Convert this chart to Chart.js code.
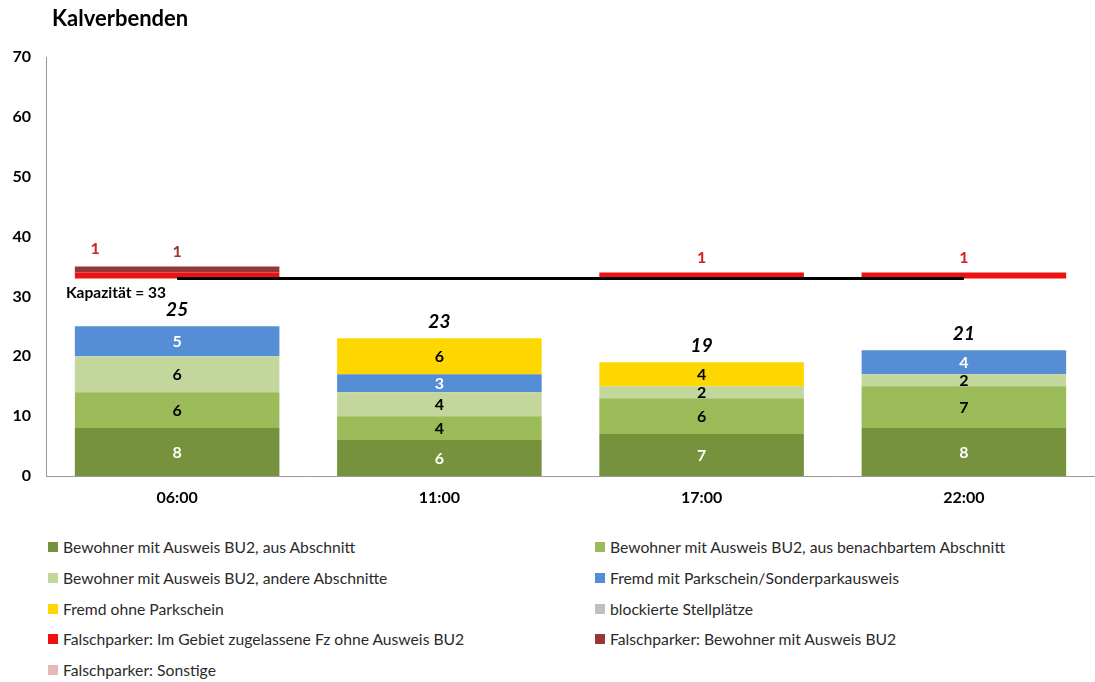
<!DOCTYPE html>
<html>
<head>
<meta charset="utf-8">
<script src="https://cdn.jsdelivr.net/npm/chart.js@4"></script>
<style>
  body { margin: 0; background: #fff; font-family: Lato, 'Open Sans', sans-serif; }
  #wrap { position: relative; width: 1095px; height: 682px; }
  #title { position: absolute; left: 52px; top: 4px; font-size: 22px; font-weight: bold; color: #000; }
  #box { position: absolute; left: 0; top: 0; width: 1095px; height: 512px; }
  #legend { position: absolute; left: 48px; top: 532px; display: grid; grid-template-columns: 547px 480px; row-gap: 0; }
  .item { height: 30.7px; display: flex; align-items: center; font-size: 15.7px; color: #2a2a2a; white-space: nowrap; }
  .item span.sw { display: inline-block; width: 10px; height: 10px; margin-right: 5px; }
</style>
</head>
<body>
<div id="wrap">
  <div id="box"><canvas id="chart"></canvas></div>
  <div id="title">Kalverbenden</div>
  <div id="legend"></div>
</div>
<script>
const categories = ['06:00', '11:00', '17:00', '22:00'];

const bewohnerAbschnitt = [8, 6, 7, 8];
const bewohnerBenachbart = [6, 4, 6, 7];
const bewohnerAndere = [6, 4, 2, 2];
const fremdMitSchein = [5, 3, 0, 4];
const fremdOhneSchein = [0, 6, 4, 0];
const blockiert = [0, 0, 0, 0];
const falschZugelassen = [1, 0, 1, 1];
const falschBewohner = [1, 0, 0, 0];
const falschSonstige = [0, 0, 0, 0];

const kapazitaet = 33;
const yMax = 70;
const yStep = 10;

const parked = [bewohnerAbschnitt, bewohnerBenachbart, bewohnerAndere, fremdMitSchein, fremdOhneSchein, blockiert];
const totals = categories.map((c, i) => parked.reduce((s, arr) => s + arr[i], 0));
const gap = totals.map(t => kapazitaet - t);

const FONT = 'Lato, "Open Sans", sans-serif';

function bar(label, data, color, textColor) {
  return { type: 'bar', label, data, backgroundColor: color, stack: 's', order: 1, textColor };
}

const datasets = [
  bar('Bewohner mit Ausweis BU2, aus Abschnitt', bewohnerAbschnitt, '#76923c', '#fff'),
  bar('Bewohner mit Ausweis BU2, aus benachbartem Abschnitt', bewohnerBenachbart, '#9bbb59', '#000'),
  bar('Bewohner mit Ausweis BU2, andere Abschnitte', bewohnerAndere, '#c3d69b', '#000'),
  bar('Fremd mit Parkschein/Sonderparkausweis', fremdMitSchein, '#558ed5', '#fff'),
  bar('Fremd ohne Parkschein', fremdOhneSchein, '#ffd700', '#000'),
  bar('blockierte Stellplätze', blockiert, '#bfbfbf', '#000'),
  { type: 'bar', label: '_gap', data: gap, backgroundColor: 'rgba(0,0,0,0)', stack: 's', order: 1, hide: true },
  bar('Falschparker: Im Gebiet zugelassene Fz ohne Ausweis BU2', falschZugelassen, '#ee1111', '#d42020'),
  bar('Falschparker: Bewohner mit Ausweis BU2', falschBewohner, '#953735', '#953735'),
  bar('Falschparker: Sonstige', falschSonstige, '#e6b9b8', '#c07070'),
  { type: 'line', label: '_cap', data: categories.map(() => kapazitaet), borderColor: '#000', borderWidth: 3,
    pointRadius: 0, stack: 'cap', order: 0, hide: true }
];

const labelPlugin = {
  id: 'labels',
  afterDatasetsDraw(chart) {
    const ctx = chart.ctx;
    const y = chart.scales.y;
    ctx.save();
    ctx.textAlign = 'center';
    ctx.textBaseline = 'middle';
    // values inside the segments
    ctx.font = 'bold 16px ' + FONT;
    for (let d = 0; d < 6; d++) {
      const meta = chart.getDatasetMeta(d);
      meta.data.forEach((el, i) => {
        const v = chart.data.datasets[d].data[i];
        if (!v) return;
        ctx.fillStyle = chart.data.datasets[d].textColor;
        ctx.fillText(v, el.x, (el.y + el.base) / 2 + 1);
      });
    }
    // totals
    ctx.font = 'italic bold 19px ' + FONT;
    ctx.fillStyle = '#000';
    chart.getDatasetMeta(5).data.forEach((el, i) => {
      ctx.fillText(totals[i], el.x, y.getPixelForValue(totals[i]) - 16);
    });
    // Falschparker labels above the capacity line
    ctx.font = 'bold 16px ' + FONT;
    categories.forEach((c, i) => {
      const cx = chart.getDatasetMeta(7).data[i].x;
      let top = kapazitaet;
      [7, 8, 9].forEach(d => { top += chart.data.datasets[d].data[i]; });
      const shown = [7, 8, 9].filter(d => chart.data.datasets[d].data[i] > 0);
      shown.forEach((d, k) => {
        const dx = shown.length > 1 ? (k - shown.length + 1) * 82 : 0;
        ctx.fillStyle = chart.data.datasets[d].textColor;
        ctx.fillText(chart.data.datasets[d].data[i], cx + dx, y.getPixelForValue(top) - 15 - (shown.length - 1 - k) * 3);
      });
    });
    // capacity text
    ctx.font = 'bold 15.5px ' + FONT;
    ctx.fillStyle = '#000';
    ctx.textAlign = 'left';
    ctx.fillText('Kapazität = ' + kapazitaet, 66, y.getPixelForValue(kapazitaet) + 15);
    ctx.restore();
  }
};

new Chart(document.getElementById('chart'), {
  data: { labels: categories, datasets },
  options: {
    responsive: true,
    maintainAspectRatio: false,
    animation: false,
    layout: { padding: { top: 57, right: 0, left: 0, bottom: 0 } },
    datasets: { bar: { categoryPercentage: 1, barPercentage: 0.78 } },
    plugins: { legend: { display: false }, tooltip: { enabled: false } },
    scales: {
      x: {
        stacked: true,
        grid: { display: false, drawTicks: false },
        border: { color: '#999', width: 1 },
        ticks: { color: '#000', font: { family: FONT, size: 16, weight: 'bold' }, padding: 12 },
        afterFit(scale) { scale.height = 36; }
      },
      y: {
        stacked: true,
        min: 0, max: yMax,
        grid: { display: false, drawTicks: false },
        border: { color: '#999', width: 1 },
        ticks: { stepSize: yStep, color: '#000', font: { family: FONT, size: 16, weight: 'bold' }, padding: 15 },
        afterFit(scale) { scale.width = 46; }
      }
    }
  },
  plugins: [labelPlugin]
});

const legend = document.getElementById('legend');
datasets.filter(ds => !ds.hide).forEach(ds => {
  const div = document.createElement('div');
  div.className = 'item';
  div.innerHTML = '<span class="sw" style="background:' + ds.backgroundColor + '"></span>' + ds.label;
  legend.appendChild(div);
});
</script>
</body>
</html>
